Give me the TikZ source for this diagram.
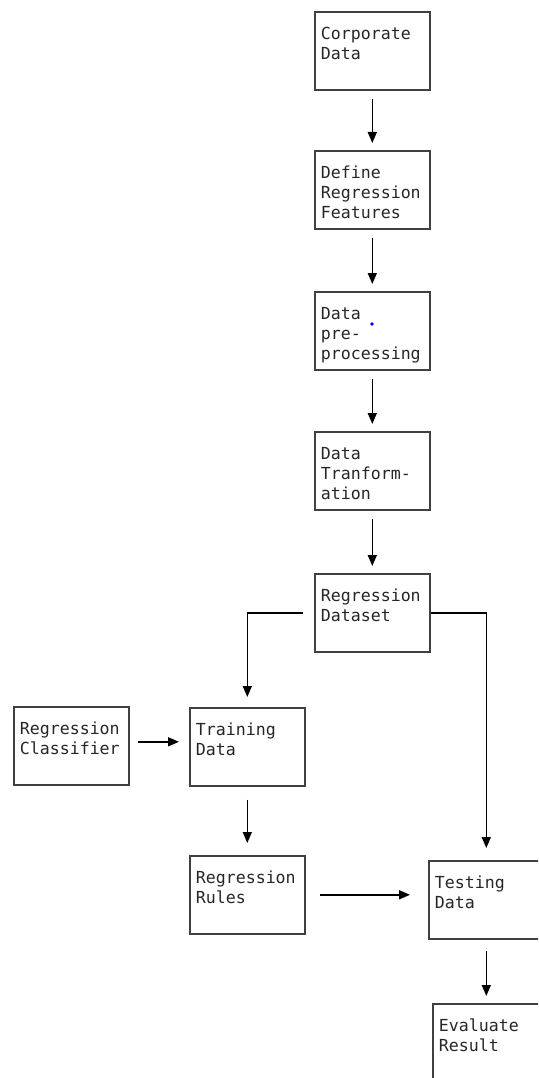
\documentclass[tikz,border=0pt]{standalone}
\usepackage{fontspec}
\setmonofont{DejaVu Sans Mono}
\usetikzlibrary{arrows.meta}

\tikzset{
  block/.style={draw=black!75, line width=1.6pt, anchor=north west,
    text width=103pt, inner xsep=6pt, inner ysep=0pt,
    text height=28pt, text depth=50pt, align=left, text=black!85,
    font=\ttfamily\fontsize{16.6}{20}\selectfont},
  link/.style={-{Triangle[length=11pt,width=9pt]}, line width=1.6pt,
    shorten <=8pt, shorten >=7pt},
}

\begin{document}
\begin{tikzpicture}[x=1pt, y=-1pt]
    \useasboundingbox (0,0) rectangle (538,1078);
    \clip (0,0) rectangle (538,1078);

    % MAIN COLUMN
    \node[block] (corp) at (314, 11) {Corporate\\Data};
    \node[block] (feat) at (314, 150) {Define\\Regression\\Features};
    \node[block] (prep) at (314, 291) {Data\\pre-\\processing};
    \node[block] (trans) at (314, 431) {Data\\Tranform-\\ation};
    \node[block] (dset) at (314, 573) {Regression\\Dataset};
    \fill[blue] (372, 324) circle (1.8pt);

    \draw[link] (corp) -- (feat);
    \draw[link] (feat) -- (prep);
    \draw[link] (prep) -- (trans);
    \draw[link] (trans) -- (dset);

    % TRAINING BRANCH
    \node[block] (clas) at (13, 706) {Regression\\Classifier};
    \node[block] (train) at (189, 707) {Training\\Data};
    \node[block] (rules) at (189, 855) {Regression\\Rules};

    \draw[link, shorten <=11pt, shorten >=10pt] (dset.west) -| (train.north);
    \draw[link, shorten >=10pt] ([yshift=4pt]clas.east) -- ([yshift=4pt]clas.east -| train.west);
    \draw[link, shorten <=13pt, shorten >=12pt] (train) -- (rules);

    % TESTING BRANCH
    \node[block] (test) at (428, 860) {Testing\\Data};
    \node[block] (eval) at (432, 1003) {Evaluate\\Result};

    \draw[link, shorten <=0pt, shorten >=12pt] (dset.east) -| (test.north);
    \draw[link, shorten <=14pt, shorten >=18pt] (rules.east) -- (rules.east -| test.west);
    \draw[link, shorten <=11pt] (test) -- (test |- eval.north);

\end{tikzpicture}
\end{document}
